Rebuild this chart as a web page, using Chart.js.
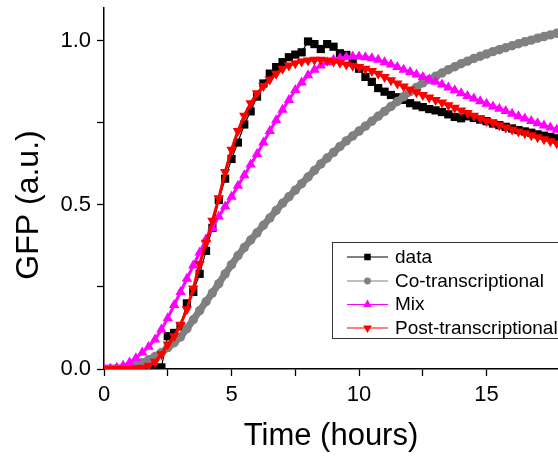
<!DOCTYPE html>
<html>
<head>
<meta charset="utf-8">
<script src="https://cdn.jsdelivr.net/npm/chart.js@4/dist/chart.umd.min.js"></script>
<style>
html,body{margin:0;padding:0;background:#fff;}
#wrap{width:558px;height:457px;position:relative;}
</style>
</head>
<body>
<div id="wrap"><canvas id="c" width="558" height="457"></canvas></div>
<script>
// Time axis (hours)
const hours = [0,0.25,0.5,0.75,1,1.25,1.5,1.75,2,2.25,2.5,2.75,3,3.25,3.5,3.75,4,4.25,4.5,4.75,5,5.25,5.5,5.75,6,6.25,6.5,6.75,7,7.25,7.5,7.75,8,8.25,8.5,8.75,9,9.25,9.5,9.75,10,10.25,10.5,10.75,11,11.25,11.5,11.75,12,12.25,12.5,12.75,13,13.25,13.5,13.75,14,14.25,14.5,14.75,15,15.25,15.5,15.75,16,16.25,16.5,16.75,17,17.25,17.5,17.75];

const seriesNames = ["data", "Co-transcriptional", "Mix", "Post-transcriptional"];

const dataValues = [0,0,0,0,0,0,0,0,
  0,0.005,0.1,0.11,
  0.13,0.2,0.235,0.29,
  0.36,0.43,0.515,0.58,
  0.64,0.69,0.745,0.785,
  0.83,0.87,0.9,0.92,
  0.935,0.95,0.958,0.965,
  0.998,0.99,0.975,0.99,
  0.982,0.962,0.957,0.94,
  0.915,0.89,0.875,0.856,
  0.845,0.835,0.828,0.82,
  0.81,0.803,0.798,0.792,
  0.788,0.783,0.776,0.768,
  0.764,0.77,0.765,0.76,
  0.755,0.748,0.743,0.738,
  0.733,0.728,0.724,0.72,
  0.715,0.711,0.707,0.703];

const coTranscriptional = [0,0,0.001,0.003,0.007,0.012,0.019,0.028,
  0.038,0.05,0.065,0.08,
  0.098,0.123,0.15,0.178,
  0.205,0.232,0.26,0.29,
  0.318,0.345,0.37,0.393,
  0.415,0.438,0.46,0.483,
  0.505,0.525,0.545,0.565,
  0.585,0.605,0.625,0.643,
  0.66,0.678,0.695,0.71,
  0.725,0.74,0.755,0.77,
  0.785,0.8,0.815,0.83,
  0.845,0.858,0.872,0.882,
  0.892,0.902,0.912,0.921,
  0.93,0.938,0.946,0.953,
  0.96,0.967,0.973,0.979,
  0.985,0.991,0.997,1.002,
  1.008,1.013,1.018,1.023];

const mix = [0,0.001,0.004,0.01,0.02,0.033,0.05,0.068,
  0.09,0.12,0.155,0.195,
  0.235,0.275,0.315,0.355,
  0.395,0.43,0.465,0.495,
  0.525,0.558,0.59,0.623,
  0.655,0.69,0.725,0.758,
  0.79,0.82,0.85,0.873,
  0.895,0.912,0.925,0.935,
  0.942,0.947,0.95,0.952,
  0.952,0.95,0.947,0.942,
  0.935,0.928,0.92,0.912,
  0.905,0.897,0.89,0.882,
  0.875,0.867,0.858,0.849,
  0.84,0.832,0.824,0.816,
  0.808,0.8,0.793,0.786,
  0.778,0.77,0.763,0.756,
  0.749,0.742,0.736,0.729];

const postTranscriptional = [0,0,0,0,0.001,0.002,0.004,0.01,
  0.022,0.045,0.075,0.1,
  0.135,0.182,0.245,0.32,
  0.385,0.452,0.52,0.6,
  0.668,0.725,0.772,0.81,
  0.84,0.862,0.882,0.9,
  0.915,0.925,0.932,0.937,
  0.94,0.942,0.942,0.94,
  0.937,0.933,0.928,0.924,
  0.92,0.915,0.908,0.9,
  0.89,0.88,0.87,0.861,
  0.852,0.843,0.835,0.827,
  0.82,0.812,0.804,0.796,
  0.788,0.78,0.772,0.764,
  0.756,0.75,0.743,0.736,
  0.73,0.724,0.718,0.712,
  0.706,0.7,0.694,0.688];

const xMajorLabels = [0, 5, 10, 15];
const yMajorLabels = [0, 0.5, 1.0];
const xTitle = "Time (hours)";
const yTitle = "GFP (a.u.)";

const FONT = "'Liberation Sans', Arial, sans-serif";

function pts(vals){ return hours.map((h,i)=>({x:h, y:vals[i]})); }

const styles = [
  {color:'#000000', pointStyle:'rect', radius:5.8, rotation:0, order:4, legendR:4.6, lineW:1.2},
  {color:'#808080', pointStyle:'circle', radius:4.7, rotation:0, order:3, legendR:3.4, lineW:7},
  {color:'#FF00FF', pointStyle:'triangle', radius:6, rotation:0, order:2, legendR:5, lineW:3},
  {color:'#FF0000', pointStyle:'triangle', radius:6, rotation:180, order:1, legendR:5, lineW:3}
];
const allSeries = [dataValues, coTranscriptional, mix, postTranscriptional];

const datasets = allSeries.map((vals, i) => ({
  label: seriesNames[i],
  data: pts(vals),
  borderColor: styles[i].color,
  backgroundColor: styles[i].color,
  borderWidth: styles[i].lineW,
  pointStyle: styles[i].pointStyle,
  pointRadius: styles[i].radius,
  pointRotation: styles[i].rotation,
  pointBackgroundColor: styles[i].color,
  pointBorderColor: styles[i].color,
  pointBorderWidth: 0,
  pointHoverRadius: styles[i].radius,
  order: styles[i].order,
  tension: 0,
  fill: false
}));

function drawMarker(ctx, style, x, y, r, color, rotation){
  ctx.save();
  ctx.fillStyle = color;
  ctx.beginPath();
  if (style === 'rect') {
    const s = r * Math.SQRT1_2;
    ctx.rect(x - s, y - s, 2*s, 2*s);
  } else if (style === 'circle') {
    ctx.arc(x, y, r, 0, Math.PI*2);
  } else {
    const dir = (rotation === 180) ? -1 : 1;
    ctx.moveTo(x, y - dir * r);
    ctx.lineTo(x + r*Math.sin(Math.PI*2/3), y + dir * r/2);
    ctx.lineTo(x - r*Math.sin(Math.PI*2/3), y + dir * r/2);
    ctx.closePath();
  }
  ctx.fill();
  ctx.restore();
}

const overlayPlugin = {
  id: 'overlay',
  afterDraw(chart){
    const ctx = chart.ctx;
    // y-axis title
    ctx.save();
    ctx.font = "32px " + FONT;
    ctx.fillStyle = '#000';
    ctx.textAlign = 'center';
    ctx.textBaseline = 'middle';
    ctx.translate(29, 205);
    ctx.rotate(-Math.PI/2);
    ctx.fillText(yTitle, 0, 0);
    ctx.restore();

    // legend box
    const bx = 332, by = 242, bw = 240, bh = 96;
    ctx.save();
    ctx.fillStyle = '#fff';
    ctx.fillRect(bx, by, bw, bh);
    ctx.strokeStyle = '#333';
    ctx.lineWidth = 1;
    ctx.strokeRect(bx + 0.5, by + 0.5, bw, bh);
    const rowY = [256.5, 280.5, 304, 327.5];
    ctx.font = "19px " + FONT;
    ctx.textBaseline = 'middle';
    ctx.textAlign = 'left';
    chart.data.datasets.forEach((ds, i) => {
      const y = rowY[i];
      ctx.strokeStyle = ds.borderColor;
      ctx.lineWidth = 1;
      ctx.beginPath();
      ctx.moveTo(347, y + 0.5);
      ctx.lineTo(388, y + 0.5);
      ctx.stroke();
      drawMarker(ctx, styles[i].pointStyle, 367.5, y + 0.5, styles[i].legendR, ds.borderColor, styles[i].rotation);
      ctx.fillStyle = '#000';
      ctx.fillText(ds.label, 395, y + 1);
    });
    ctx.restore();
  }
};

new Chart(document.getElementById('c'), {
  type: 'line',
  data: { datasets },
  options: {
    responsive: false,
    animation: false,
    devicePixelRatio: 1,
    layout: { autoPadding: false, padding: { left: 0, right: 0, top: 8, bottom: 0 } },
    plugins: { legend: { display: false }, tooltip: { enabled: false } },
    scales: {
      x: {
        type: 'linear',
        min: 0,
        max: 17.8,
        afterFit(scale){ scale.height = 88; scale.paddingLeft = 0; scale.paddingRight = 0; },
        afterBuildTicks(scale){ scale.ticks = scale.ticks.filter(t => Math.abs(t.value/2.5 - Math.round(t.value/2.5)) < 1e-6); },
        ticks: {
          stepSize: 2.5,
          autoSkip: false,
          maxRotation: 0,
          padding: 6,
          color: '#000',
          font: { family: FONT, size: 22 },
          callback(v){ return xMajorLabels.includes(v) ? String(v) : ''; }
        },
        grid: { drawOnChartArea: false, drawTicks: true, tickLength: 7, tickColor: '#000', tickWidth: 1.3 },
        border: { display: true, color: '#000', width: 1.5 },
        title: { display: true, text: xTitle, color: '#000', font: { family: FONT, size: 31 }, padding: { top: 0, bottom: 2 } }
      },
      y: {
        type: 'linear',
        min: 0,
        max: 1.1,
        afterFit(scale){ scale.width = 104; scale.paddingTop = 0; scale.paddingBottom = 0; },
        afterBuildTicks(scale){ scale.ticks = scale.ticks.filter(t => Math.abs(t.value/0.25 - Math.round(t.value/0.25)) < 1e-6); },
        ticks: {
          stepSize: 0.25,
          autoSkip: false,
          padding: 6,
          color: '#000',
          font: { family: FONT, size: 22 },
          callback(v){ return yMajorLabels.some(m => Math.abs(m - v) < 1e-6) ? v.toFixed(1) : ''; }
        },
        grid: { drawOnChartArea: false, drawTicks: true, tickLength: 7, tickColor: '#000', tickWidth: 1.3 },
        border: { display: true, color: '#000', width: 1.5 }
      }
    }
  },
  plugins: [overlayPlugin]
});
</script>
</body>
</html>
